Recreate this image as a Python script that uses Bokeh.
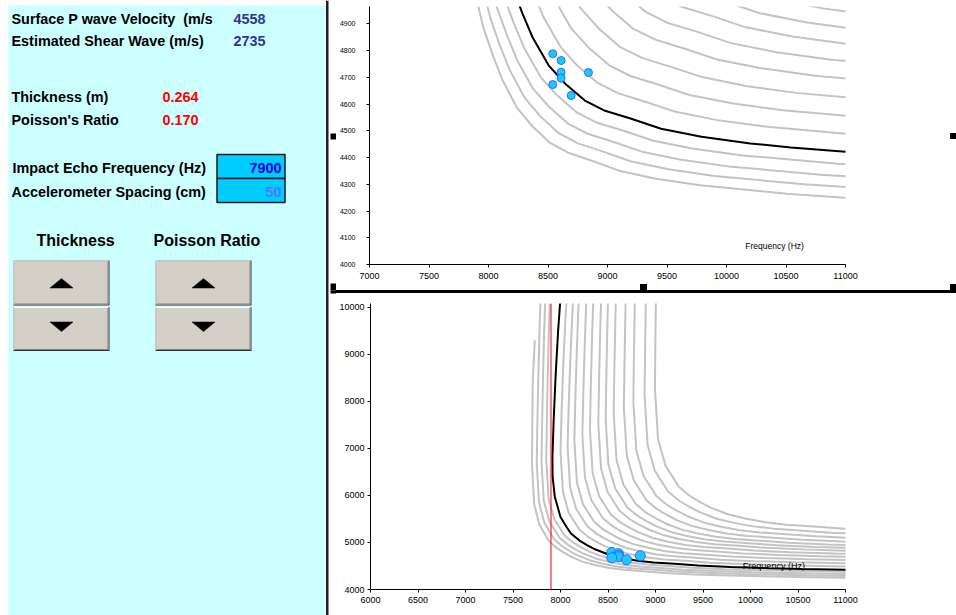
from bokeh.plotting import figure
from bokeh.layouts import row, column
from bokeh.models import Range1d, FixedTicker, Span, Div
from bokeh.embed import file_html
from bokeh.resources import INLINE
from bokeh.core.properties import value

FONT = "Liberation Sans"

# ---------------- data ----------------
surface_p_velocity = "4558"
shear_velocity = "2735"
thickness_m = "0.264"
poisson_ratio = "0.170"
impact_echo_hz = 7900
accel_spacing_cm = "50"

meas_freq = [8540, 8610, 8610, 8610, 8540, 8695, 8840]
meas_vel = [4788, 4763, 4719, 4697, 4673, 4632, 4718]

fit_freq = [7998, 7975, 7950, 7928, 7915, 7917, 7940, 8000, 8060, 8110, 8200, 8284,
            8370, 8505, 8645, 8810, 8980, 9200, 9450, 9790, 10200, 10540, 11000, 11500]
fit_vel = [10150, 9500, 8600, 7600, 6800, 6400, 5970, 5540, 5340, 5190, 5040, 4940,
           4850, 4745, 4676, 4613, 4575, 4545, 4508, 4478, 4453, 4438, 4422, 4408]

grid_freq = [
    [7730, 7708, 7703, 7700, 7723, 7777, 7877, 7959, 8036, 8114, 8237, 8364, 8514, 8669, 8869, 9097, 9406, 9779, 10507, 10962, 11100],
    [7788, 7777, 7766, 7756, 7750, 7774, 7830, 7933, 8018, 8097, 8178, 8305, 8436, 8591, 8751, 8958, 9193, 9513, 9898, 10650, 11120],
    [7838, 7827, 7816, 7806, 7800, 7824, 7882, 7989, 8076, 8158, 8241, 8372, 8508, 8668, 8833, 9046, 9289, 9619, 10016, 10792, 11277],
    [7888, 7877, 7866, 7856, 7850, 7875, 7935, 8045, 8135, 8219, 8305, 8440, 8580, 8745, 8915, 9135, 9385, 9725, 10135, 10935, 11435],
    [8070, 8050, 8029, 8011, 8000, 8026, 8087, 8200, 8292, 8378, 8466, 8605, 8748, 8917, 9092, 9317, 9573, 9922, 10342, 11162, 11675],
    [8144, 8125, 8104, 8086, 8075, 8101, 8164, 8280, 8374, 8462, 8553, 8695, 8842, 9015, 9193, 9424, 9687, 10044, 10474, 11314, 11839],
    [8207, 8190, 8172, 8156, 8146, 8173, 8237, 8356, 8452, 8543, 8635, 8780, 8931, 9108, 9291, 9527, 9796, 10162, 10602, 11462, 12000],
    [8291, 8274, 8256, 8240, 8230, 8258, 8324, 8445, 8544, 8636, 8731, 8879, 9033, 9215, 9402, 9644, 9919, 10293, 10744, 11624, 12174],
    [8365, 8350, 8333, 8319, 8310, 8338, 8406, 8529, 8631, 8725, 8822, 8974, 9131, 9317, 9508, 9756, 10037, 10419, 10881, 11781, 12343],
    [8449, 8435, 8419, 8406, 8398, 8427, 8496, 8622, 8726, 8822, 8921, 9077, 9238, 9427, 9623, 9876, 10163, 10554, 11026, 11946, 12521],
    [8522, 8509, 8495, 8483, 8475, 8504, 8575, 8704, 8810, 8909, 9010, 9168, 9333, 9527, 9726, 9985, 10279, 10678, 11160, 12100, 12687],
    [8606, 8593, 8579, 8567, 8560, 8590, 8662, 8794, 8902, 9003, 9106, 9268, 9436, 9634, 9838, 10102, 10402, 10810, 11302, 12262, 12862],
    [8711, 8699, 8685, 8674, 8667, 8698, 8771, 8906, 9016, 9119, 9224, 9390, 9561, 9763, 9972, 10241, 10547, 10964, 11466, 12446, 13059],
    [8806, 8795, 8783, 8773, 8767, 8798, 8873, 9011, 9123, 9228, 9336, 9505, 9680, 9886, 10098, 10373, 10686, 11111, 11623, 12623, 13248],
    [8921, 8911, 8900, 8891, 8885, 8917, 8993, 9134, 9248, 9355, 9465, 9637, 9816, 10026, 10243, 10523, 10842, 11276, 11798, 12818, 13456],
    [9026, 9017, 9007, 8999, 8994, 9027, 9105, 9248, 9365, 9474, 9586, 9761, 9943, 10158, 10379, 10665, 10990, 11432, 11965, 13005, 13655],
]
grid_vel = [
    [9300, 8443, 7443, 6643, 5813, 5383, 5033, 4883, 4783, 4693, 4588, 4519, 4456, 4418, 4388, 4351, 4321, 4296, 4265, 4251, 4247],
    [10100, 9378, 8478, 7478, 6678, 5848, 5418, 5068, 4918, 4818, 4728, 4623, 4554, 4491, 4453, 4423, 4386, 4356, 4331, 4300, 4286],
    [10100, 9414, 8514, 7514, 6714, 5884, 5454, 5104, 4954, 4854, 4764, 4659, 4590, 4527, 4489, 4459, 4422, 4392, 4367, 4336, 4322],
    [10105, 9455, 8555, 7555, 6755, 5925, 5495, 5145, 4995, 4895, 4805, 4700, 4631, 4568, 4530, 4500, 4463, 4433, 4408, 4377, 4363],
    [10354, 9688, 8766, 7741, 6921, 6070, 5629, 5270, 5117, 5014, 4922, 4814, 4743, 4679, 4640, 4609, 4571, 4540, 4515, 4483, 4469],
    [10559, 9876, 8931, 7881, 7041, 6170, 5718, 5351, 5193, 5088, 4994, 4883, 4811, 4745, 4705, 4673, 4634, 4603, 4577, 4544, 4529],
    [10766, 10067, 9100, 8025, 7165, 6272, 5810, 5434, 5273, 5165, 5068, 4955, 4881, 4813, 4773, 4740, 4701, 4668, 4641, 4608, 4593],
    [10973, 10258, 9268, 8168, 7288, 6375, 5902, 5517, 5352, 5242, 5143, 5028, 4952, 4882, 4841, 4808, 4767, 4734, 4706, 4672, 4657],
    [11175, 10444, 9432, 8307, 7407, 6473, 5989, 5595, 5427, 5314, 5213, 5095, 5017, 4946, 4903, 4870, 4828, 4794, 4766, 4731, 4716],
    [11376, 10628, 9593, 8443, 7523, 6569, 6074, 5672, 5499, 5384, 5281, 5160, 5080, 5008, 4964, 4930, 4887, 4853, 4824, 4788, 4772],
    [11570, 10806, 9749, 8574, 7634, 6658, 6153, 5742, 5566, 5448, 5342, 5219, 5138, 5064, 5019, 4984, 4940, 4905, 4876, 4839, 4823],
    [11764, 10984, 9904, 8704, 7744, 6748, 6232, 5812, 5632, 5512, 5404, 5278, 5195, 5120, 5074, 5038, 4994, 4958, 4928, 4890, 4874],
    [11968, 11172, 10070, 8845, 7865, 6848, 6321, 5892, 5709, 5586, 5476, 5347, 5263, 5185, 5139, 5102, 5057, 5020, 4989, 4951, 4934],
    [12183, 11370, 10245, 8995, 7995, 6958, 6420, 5983, 5795, 5670, 5558, 5426, 5340, 5261, 5214, 5176, 5130, 5093, 5061, 5023, 5005],
    [12402, 11573, 10426, 9151, 8131, 7072, 6524, 6078, 5887, 5759, 5644, 5510, 5422, 5342, 5294, 5255, 5208, 5170, 5138, 5099, 5081],
    [12626, 11781, 10611, 9311, 8271, 7192, 6633, 6178, 5983, 5853, 5736, 5600, 5510, 5428, 5379, 5340, 5291, 5252, 5220, 5180, 5161],
]

top_xticks = [7000, 7500, 8000, 8500, 9000, 9500, 10000, 10500, 11000]
top_yticks = [4000, 4100, 4200, 4300, 4400, 4500, 4600, 4700, 4800, 4900]
bot_xticks = [6000, 6500, 7000, 7500, 8000, 8500, 9000, 9500, 10000, 10500, 11000]
bot_yticks = [4000, 5000, 6000, 7000, 8000, 9000, 10000]

GRAY = "#C3C3C3"
PT_FILL = "#1EC8FF"
PT_LINE = "#2A6BFF"


def blank(width, height, xr, yr):
    p = figure(width=width, height=height, x_range=Range1d(*xr), y_range=Range1d(*yr),
               output_backend="svg", toolbar_location=None,
               x_axis_location=None, y_axis_location=None,
               min_border_left=0, min_border_right=0, min_border_top=0, min_border_bottom=0)
    p.grid.visible = False
    p.outline_line_color = None
    p.background_fill_color = "white"
    p.border_fill_color = "white"
    return p


def chart(width, height, xr, yr, mb, xticks, yticks, xfs, yfs, ystand, xstand):
    p = figure(width=width, height=height, x_range=Range1d(*xr), y_range=Range1d(*yr),
               output_backend="svg", toolbar_location=None,
               min_border_left=mb[0], min_border_right=mb[1],
               min_border_top=mb[2], min_border_bottom=mb[3])
    p.grid.visible = False
    p.outline_line_color = None
    p.background_fill_color = "white"
    p.border_fill_color = "white"
    p.xaxis.ticker = FixedTicker(ticks=xticks)
    p.yaxis.ticker = FixedTicker(ticks=yticks)
    for ax, fs, st in ((p.xaxis[0], xfs, xstand), (p.yaxis[0], yfs, ystand)):
        ax.axis_line_color = "black"
        ax.axis_line_width = 1
        ax.major_tick_line_color = "black"
        ax.minor_tick_line_color = None
        ax.major_tick_in = 0
        ax.major_tick_out = 3
        ax.major_label_standoff = st
        ax.major_label_text_font = FONT
        ax.major_label_text_font_size = fs
        ax.major_label_text_color = "black"
    return p


# ---------------- left panel ----------------
L = blank(336, 615, (0, 336), (615, 0))
L.quad(left=[8], right=[325.5], top=[5], bottom=[615], fill_color="#CCFFFF", line_color=None)
L.quad(left=[325.5], right=[328], top=[0], bottom=[615], fill_color="#202020", line_color=None)

def ltext(x, y, s, color="black", size="14.4px", align="left", style="bold"):
    L.text(x=[x], y=[y], text=[s], text_color=color, text_font=value(FONT),
           text_font_size=size, text_font_style=style, text_align=align,
           text_baseline="middle")

ltext(11, 18, "Surface P wave Velocity \u00a0(m/s")
ltext(265, 18, surface_p_velocity, color="#333399", align="right")
ltext(11, 40, "Estimated Shear Wave (m/s)")
ltext(265, 40, shear_velocity, color="#333399", align="right")
ltext(11, 96, "Thickness (m)")
ltext(198, 96, thickness_m, color="#FF0000", align="right")
ltext(11, 119, "Poisson's Ratio")
ltext(198, 119, poisson_ratio, color="#FF0000", align="right")

L.quad(left=[216.5, 216.5], right=[284.5, 284.5], top=[154, 178], bottom=[178, 202],
       fill_color="#00CCFF", line_color="#1a1a1a", line_width=1.5)
ltext(12, 167, "Impact Echo Frequency (Hz)")
ltext(11, 191, "Accelerometer Spacing (cm)")
ltext(281, 167, str(impact_echo_hz), color="#0000EE", align="right")
ltext(281, 191, accel_spacing_cm, color="#4F79FF", align="right")

ltext(36, 240, "Thickness", size="16px")
ltext(153, 240, "Poisson Ratio", size="16px")

for (x0, x1) in ((13, 109), (155, 251)):
    for (y0, y1) in ((260, 305), (306.5, 350.5)):
        L.quad(left=[x0], right=[x1], top=[y0], bottom=[y1], fill_color="#303030", line_color=None)
        L.quad(left=[x0], right=[x1 - 1], top=[y0], bottom=[y1 - 1], fill_color="#FFFFFF", line_color=None)
        L.quad(left=[x0 + 1], right=[x1 - 1], top=[y0 + 1], bottom=[y1 - 1], fill_color="#808080", line_color=None)
        L.quad(left=[x0 + 1], right=[x1 - 2], top=[y0 + 1], bottom=[y1 - 2], fill_color="#D4D0C8", line_color=None)
    cx = (x0 + x1) / 2.0
    L.patches(xs=[[cx - 11.5, cx + 11.5, cx], [cx - 11.5, cx + 11.5, cx]],
              ys=[[287.5, 287.5, 278], [321.5, 321.5, 331]],
              fill_color="black", line_color="black", line_width=0.5)

# selection handles / separator (left part)
L.quad(left=[330, 330], right=[336, 336], top=[133, 283], bottom=[139, 290], fill_color="black", line_color=None)
L.quad(left=[330], right=[336], top=[290], bottom=[293], fill_color="black", line_color=None)

# ---------------- top chart ----------------
T = chart(610, 284, (7000, 11000), (4000, 4965), (32, 101, 6, 20),
          top_xticks, top_yticks, "9px", "7px", 11, 5)
T.multi_line(xs=grid_freq, ys=grid_vel, line_color=GRAY, line_width=2)
T.line(fit_freq, fit_vel, line_color="black", line_width=2)
T.scatter(meas_freq, meas_vel, size=8, fill_color=PT_FILL, line_color=PT_LINE, line_width=1)
T.text(x=[10404], y=[4070], text=["Frequency (Hz)"], text_font=value(FONT), text_font_size="8.5px",
       text_align="center", text_baseline="middle", text_color="black")

R = Div(width=10, height=284, styles={"margin": "0", "padding": "0"},
        text='<div style="position:relative;width:10px;height:284px;background:#fff">'
             '<div style="position:absolute;left:4px;top:133px;width:6px;height:6px;background:#000"></div></div>')

S = Div(width=620, height=12, styles={"margin": "0", "padding": "0"},
        text='<div style="position:relative;width:620px;height:12px;background:#fff;overflow:hidden">'
             '<div style="position:absolute;left:0px;top:6px;width:620px;height:3px;background:#000"></div>'
             '<div style="position:absolute;left:304px;top:0px;width:7px;height:6px;background:#000"></div>'
             '<div style="position:absolute;left:614px;top:0px;width:6px;height:6px;background:#000"></div></div>')

# ---------------- bottom chart ----------------
B = chart(620, 319, (6000, 11000), (4000, 10080), (32, 111, 7, 26),
          bot_xticks, bot_yticks, "9px", "9px", 3, 4)
B.multi_line(xs=grid_freq, ys=grid_vel, line_color=GRAY, line_width=2)
B.line(fit_freq, fit_vel, line_color="black", line_width=2)
B.add_layout(Span(location=impact_echo_hz, dimension="height", line_color="#FF0000", line_width=1))
B.scatter(meas_freq, meas_vel, size=10, fill_color=PT_FILL, line_color=PT_LINE, line_width=1)
B.text(x=[10246], y=[4489], text=["Frequency (Hz)"], text_font=value(FONT), text_font_size="9px",
       text_align="center", text_baseline="middle", text_color="black")

layout = row(L, column(row(T, R), S, B))
open("out.html", "w").write(file_html(layout, INLINE))
